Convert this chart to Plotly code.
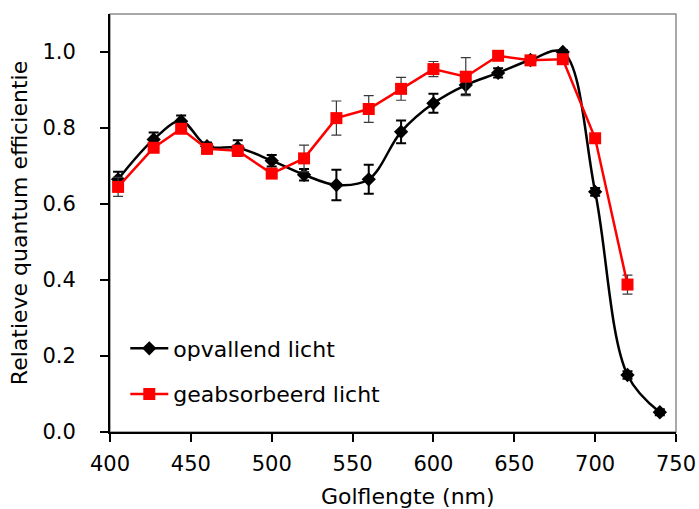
import plotly.graph_objects as go

wavelength = [405, 427, 444, 460, 479, 500, 520, 540, 560, 580, 600, 620, 640, 660, 680, 700, 720, 740]
opvallend = [0.665, 0.770, 0.818, 0.752, 0.748, 0.714, 0.677, 0.650, 0.665, 0.790, 0.865, 0.913, 0.945, 0.979, 1.000, 0.632, 0.150, 0.052]
opvallend_err = [0.020, 0.018, 0.015, 0.010, 0.020, 0.015, 0.015, 0.040, 0.038, 0.030, 0.025, 0.025, 0.012, 0.008, 0.005, 0.010, 0.010, 0.008]

wavelength_abs = [405, 427, 444, 460, 479, 500, 520, 540, 560, 580, 600, 620, 640, 660, 680, 700, 720]
geabsorbeerd = [0.645, 0.748, 0.798, 0.745, 0.740, 0.680, 0.720, 0.826, 0.850, 0.903, 0.955, 0.935, 0.990, 0.978, 0.981, 0.773, 0.388]
geabsorbeerd_err = [0.025, 0.012, 0.010, 0.010, 0.015, 0.010, 0.035, 0.045, 0.035, 0.030, 0.020, 0.050, 0.010, 0.010, 0.010, 0.010, 0.025]

x_title = "Golflengte (nm)"
y_title = "Relatieve quantum efficientie"

FONT = "DejaVu Sans"

fig = go.Figure()
fig.add_trace(go.Scatter(
    x=wavelength, y=opvallend, name="opvallend licht", legendgroup="a",
    mode="lines+markers",
    line=dict(color="black", width=2.5, shape="spline", smoothing=1.0),
    marker=dict(symbol="diamond", size=11, color="black"),
    error_y=dict(type="data", array=opvallend_err, visible=True,
                 color="black", thickness=2, width=5),
))
fig.add_trace(go.Scatter(
    x=wavelength_abs, y=geabsorbeerd, name="geabsorbeerd licht", legendgroup="b",
    mode="lines+markers",
    line=dict(color="#ff0000", width=2.5),
    marker=dict(symbol="square", size=12, color="#ff0000"),
    error_y=dict(type="data", array=geabsorbeerd_err, visible=True,
                 color="#3a3a3a", thickness=1.2, width=5),
))

fig.add_shape(type="rect", xref="paper", yref="paper", x0=0, x1=1, y0=0, y1=1,
              line=dict(color="#8c8c8c", width=1.5), layer="below")

fig.add_annotation(text=x_title, xref="paper", yref="paper", x=0.527, y=0,
                   xanchor="center", yanchor="middle", yshift=-64, showarrow=False,
                   font=dict(size=22, family=FONT, color="black"))

fig.update_layout(
    width=699, height=509,
    margin=dict(l=110, r=23, t=14, b=77),
    paper_bgcolor="white", plot_bgcolor="white",
    font=dict(family=FONT, size=21, color="black"),
    showlegend=True,
    legend=dict(x=0.027, y=0.25, xanchor="left", yanchor="top",
                bgcolor="rgba(0,0,0,0)", font=dict(size=22, family=FONT),
                tracegroupgap=14, itemwidth=38),
    xaxis=dict(
        range=[400, 750], tickmode="linear", tick0=400, dtick=50,
        showgrid=False, zeroline=False, automargin=False,
        showline=True, linecolor="black", linewidth=2,
        ticks="outside", ticklen=8, tickwidth=1.5, tickcolor="black",
        ticklabelstandoff=4,
        tickfont=dict(size=21, family=FONT),
    ),
    yaxis=dict(
        range=[0, 1.1], tickmode="linear", tick0=0, dtick=0.2, tickformat=".1f",
        showgrid=False, zeroline=False, automargin=False,
        showline=True, linecolor="black", linewidth=2,
        ticks="outside", ticklen=8, tickwidth=1.5, tickcolor="black",
        ticklabelstandoff=20,
        tickfont=dict(size=21, family=FONT),
        title=dict(text=y_title, font=dict(size=22, family=FONT), standoff=9),
    ),
)

fig.write_html("out.html", config={"displayModeBar": False},
               post_script="document.body.style.margin='0';")
